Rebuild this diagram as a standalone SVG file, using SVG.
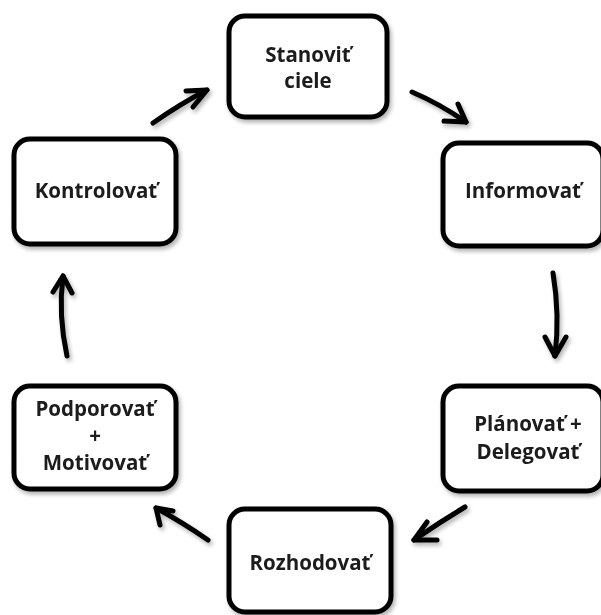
<svg xmlns="http://www.w3.org/2000/svg" width="601" height="615" viewBox="0 0 601 615">
<defs>
<style>
.box{fill:#fff;stroke:#000;stroke-width:5}
.lbl{font-family:"Open Sans","Liberation Sans",sans-serif;font-weight:bold;font-size:20.5px;fill:#1a1a1a;text-anchor:middle}
.arr{fill:none;stroke:#000;stroke-width:5;stroke-linecap:round;stroke-linejoin:round}
</style>
<filter id="sh" x="-20%" y="-20%" width="140%" height="140%">
<feGaussianBlur in="SourceAlpha" stdDeviation="2"/>
<feOffset dx="2" dy="3"/>
<feComponentTransfer><feFuncA type="linear" slope="0.3"/></feComponentTransfer>
<feMerge><feMergeNode/><feMergeNode in="SourceGraphic"/></feMerge>
</filter>
</defs>
<rect width="601" height="615" fill="#fff"/>
<g id="stanovit" filter="url(#sh)">
<rect class="box" x="229" y="16" width="158" height="101" rx="16"/>
<text class="lbl" x="308" y="62">Stanoviť</text>
<text class="lbl" x="308" y="88">ciele</text>
</g>
<g id="informovat" filter="url(#sh)">
<rect class="box" x="443" y="143" width="160" height="103" rx="16"/>
<text class="lbl" x="523" y="198">Informovať</text>
</g>
<g id="planovat" filter="url(#sh)">
<rect class="box" x="443" y="386" width="160" height="105" rx="16"/>
<text class="lbl" x="528" y="431">Plánovať +</text>
<text class="lbl" x="528" y="459">Delegovať</text>
</g>
<g id="rozhodovat" filter="url(#sh)">
<rect class="box" x="229" y="509" width="162" height="103" rx="16"/>
<text class="lbl" x="310" y="570">Rozhodovať</text>
</g>
<g id="podporovat" filter="url(#sh)">
<rect class="box" x="14" y="386" width="162" height="103" rx="16"/>
<text class="lbl" x="95" y="416">Podporovať</text>
<text class="lbl" x="95" y="443">+</text>
<text class="lbl" x="95" y="470">Motivovať</text>
</g>
<g id="kontrolovat" filter="url(#sh)">
<rect class="box" x="14" y="139" width="162" height="105" rx="16"/>
<text class="lbl" x="96" y="198">Kontrolovať</text>
</g>
<g id="connectors" filter="url(#sh)">
<path class="arr" d="M153,123 Q180,104 207,90"/>
<path class="arr" d="M186,91 L207,90 L193,107"/>
<path class="arr" d="M412,92 Q440,104 466,122"/>
<path class="arr" d="M458,104 L466,122 L444,121"/>
<path class="arr" d="M553,273 Q560,315 555,356"/>
<path class="arr" d="M545,337 L555,356 L566,337"/>
<path class="arr" d="M465,507 Q440,522 414,540"/>
<path class="arr" d="M427,522 L414,540 L437,540"/>
<path class="arr" d="M208,540 Q182,522 156,508"/>
<path class="arr" d="M160,525 L156,508 L173,511"/>
<path class="arr" d="M67,356 Q58,315 63,276"/>
<path class="arr" d="M53,292 L63,276 L72,293"/>
</g>
</svg>
